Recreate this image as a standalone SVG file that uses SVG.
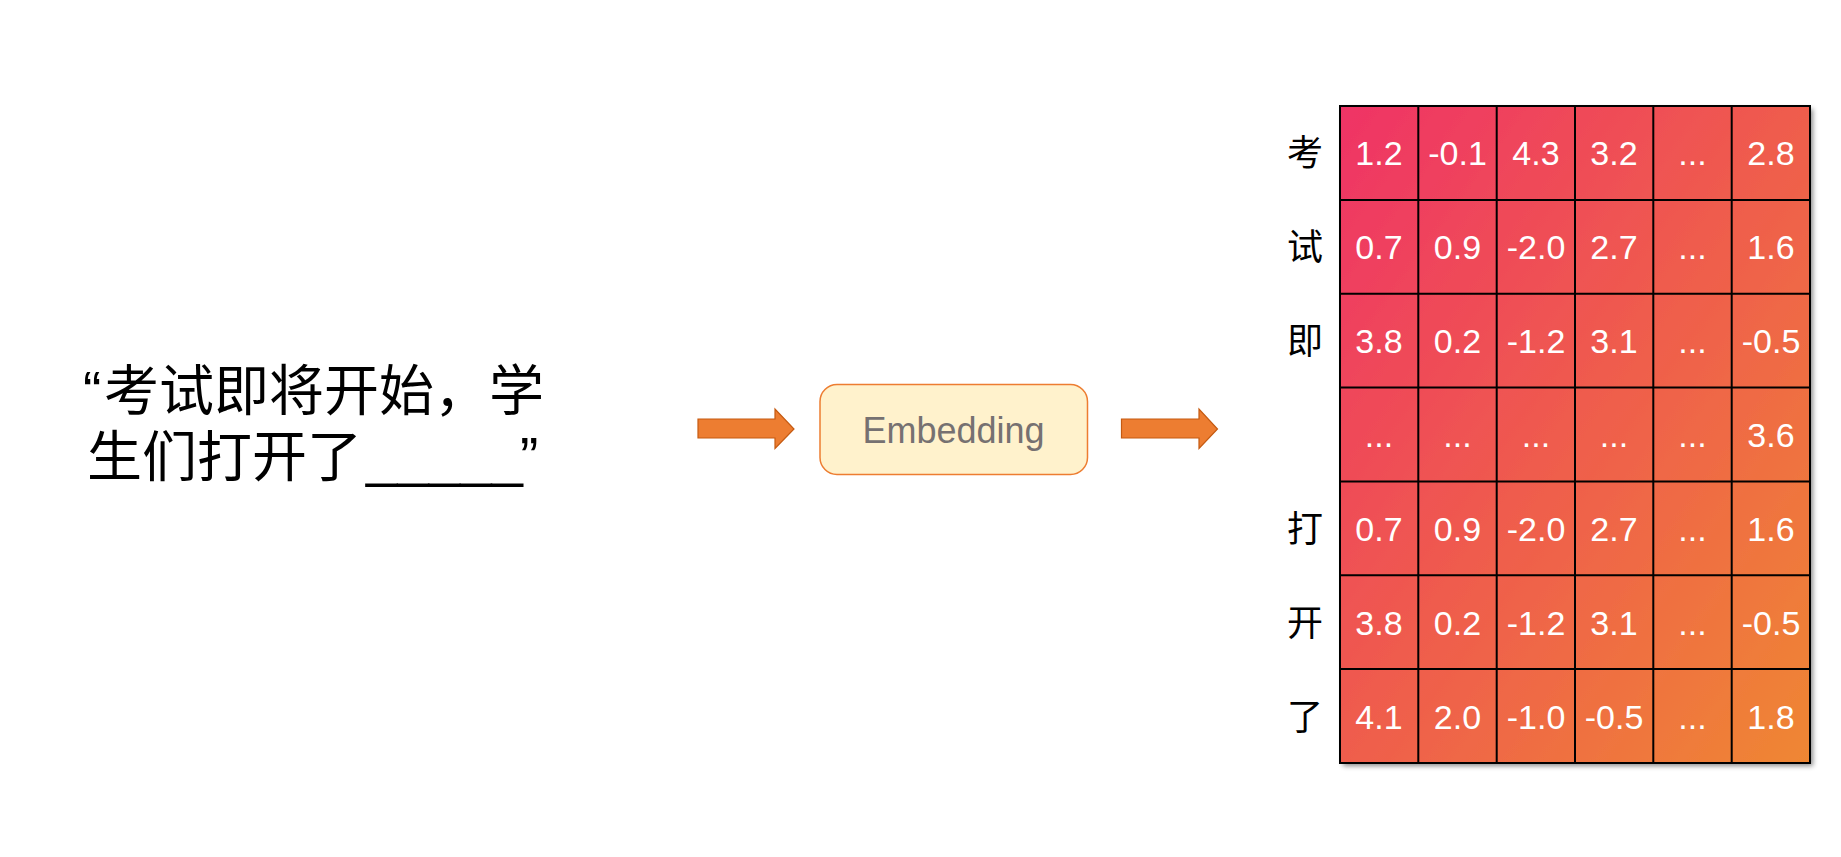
<svg xmlns="http://www.w3.org/2000/svg" width="1841" height="857" viewBox="0 0 1841 857">
<defs>
<linearGradient id="g" x1="0" y1="0" x2="1" y2="1">
<stop offset="0" stop-color="#ef3366"/>
<stop offset="1" stop-color="#ef8733"/>
</linearGradient>
<filter id="sh" x="-5%" y="-5%" width="110%" height="110%">
<feDropShadow dx="3" dy="3" stdDeviation="2.5" flood-color="#000" flood-opacity="0.45"/>
</filter>
<style>
.cjk{font-family:"Noto Sans CJK SC",sans-serif;fill:#000}
.lat{font-family:"Liberation Sans",Arial,sans-serif}
.num{font-family:"Liberation Sans",Arial,sans-serif;font-size:34px;fill:#fff;text-anchor:middle}
.lbl{font-family:"Noto Sans CJK SC",sans-serif;font-size:36px;fill:#000;text-anchor:middle}
.grid{stroke:#000;stroke-width:2;fill:none}
.arrow{fill:#ed7d31;stroke:#c55a11;stroke-width:1.2}
</style>
</defs>
<rect width="1841" height="857" fill="#fff"/>

<g id="sentence">
<text class="cjk" font-size="55"><tspan class="lat" x="83" y="410">“</tspan><tspan x="104" y="410">考试即将开始，学</tspan><tspan x="87" y="476">生们打开了</tspan><tspan class="lat" x="366" y="476" textLength="157" lengthAdjust="spacingAndGlyphs">_____</tspan><tspan class="lat" x="520" y="476">”</tspan></text>
</g>

<g id="connectors">
<path class="arrow" d="M698,419 H775 V409 L794,429 L775,448.5 V438 H698 Z"/>
<path class="arrow" d="M1121.5,419 H1199 V409 L1217.5,429 L1199,448.5 V438 H1121.5 Z"/>
</g>

<g id="embedding">
<rect x="820" y="384.5" width="267.5" height="90" rx="17" ry="17" fill="#fff2cc" stroke="#ed7d31" stroke-width="1.5"/>
<text class="lat" x="953.5" y="443" font-size="36" fill="#767171" text-anchor="middle">Embedding</text>
</g>

<g id="matrix">
<rect x="1340" y="106" width="470" height="657" fill="url(#g)" filter="url(#sh)"/>
<rect class="grid" x="1340" y="106" width="470" height="657"/>
<path class="grid" d="M1418.3,106V763M1496.7,106V763M1575,106V763M1653.3,106V763M1731.7,106V763M1340,199.9H1810M1340,293.7H1810M1340,387.6H1810M1340,481.4H1810M1340,575.3H1810M1340,669.1H1810"/>
<g id="row-labels">
<text class="lbl" x="1305" y="166">考</text>
<text class="lbl" x="1305" y="260">试</text>
<text class="lbl" x="1305" y="354">即</text>
<text class="lbl" x="1305" y="542">打</text>
<text class="lbl" x="1305" y="636">开</text>
<text class="lbl" x="1305" y="730">了</text>
</g>
<g id="values">
<text class="num" y="165"><tspan x="1379">1.2</tspan><tspan x="1457.5">-0.1</tspan><tspan x="1536">4.3</tspan><tspan x="1614">3.2</tspan><tspan x="1692.5">...</tspan><tspan x="1771">2.8</tspan></text>
<text class="num" y="259"><tspan x="1379">0.7</tspan><tspan x="1457.5">0.9</tspan><tspan x="1536">-2.0</tspan><tspan x="1614">2.7</tspan><tspan x="1692.5">...</tspan><tspan x="1771">1.6</tspan></text>
<text class="num" y="353"><tspan x="1379">3.8</tspan><tspan x="1457.5">0.2</tspan><tspan x="1536">-1.2</tspan><tspan x="1614">3.1</tspan><tspan x="1692.5">...</tspan><tspan x="1771">-0.5</tspan></text>
<text class="num" y="447"><tspan x="1379">...</tspan><tspan x="1457.5">...</tspan><tspan x="1536">...</tspan><tspan x="1614">...</tspan><tspan x="1692.5">...</tspan><tspan x="1771">3.6</tspan></text>
<text class="num" y="541"><tspan x="1379">0.7</tspan><tspan x="1457.5">0.9</tspan><tspan x="1536">-2.0</tspan><tspan x="1614">2.7</tspan><tspan x="1692.5">...</tspan><tspan x="1771">1.6</tspan></text>
<text class="num" y="635"><tspan x="1379">3.8</tspan><tspan x="1457.5">0.2</tspan><tspan x="1536">-1.2</tspan><tspan x="1614">3.1</tspan><tspan x="1692.5">...</tspan><tspan x="1771">-0.5</tspan></text>
<text class="num" y="729"><tspan x="1379">4.1</tspan><tspan x="1457.5">2.0</tspan><tspan x="1536">-1.0</tspan><tspan x="1614">-0.5</tspan><tspan x="1692.5">...</tspan><tspan x="1771">1.8</tspan></text>
</g>
</g>
</svg>
